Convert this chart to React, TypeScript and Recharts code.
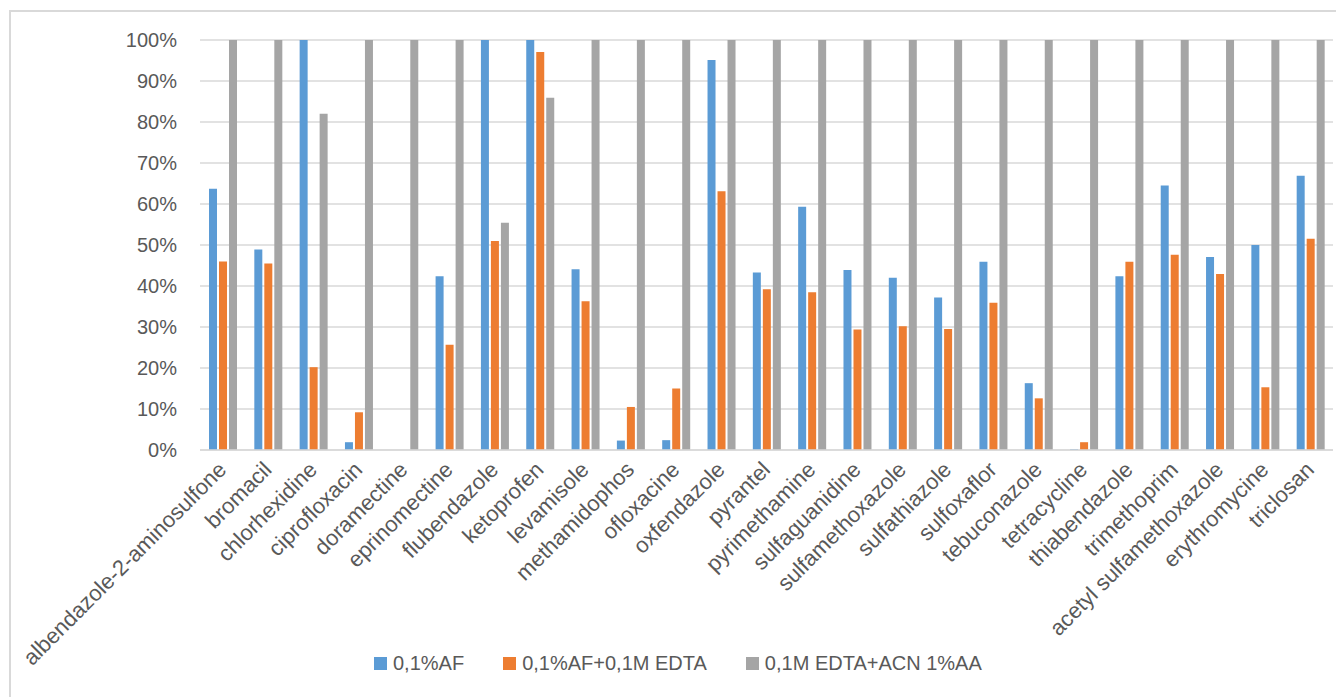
import React from 'react';
import { BarChart, Bar, XAxis, YAxis, CartesianGrid, Legend } from 'recharts';

const categories = [
  'albendazole-2-aminosulfone', 'bromacil', 'chlorhexidine', 'ciprofloxacin', 'doramectine',
  'eprinomectine', 'flubendazole', 'ketoprofen', 'levamisole', 'methamidophos', 'ofloxacine',
  'oxfendazole', 'pyrantel', 'pyrimethamine', 'sulfaguanidine', 'sulfamethoxazole',
  'sulfathiazole', 'sulfoxaflor', 'tebuconazole', 'tetracycline', 'thiabendazole',
  'trimethoprim', 'acetyl sulfamethoxazole', 'erythromycine', 'triclosan',
];

const af = [63.7, 48.9, 100, 1.9, 0, 42.4, 100, 100, 44.1, 2.3, 2.4, 95.1, 43.3, 59.3, 43.9, 42.0, 37.2, 45.9, 16.3, 0.2, 42.4, 64.5, 47.1, 50.0, 66.9];
const afEdta = [46.0, 45.5, 20.2, 9.2, 0, 25.7, 51.0, 97.1, 36.3, 10.5, 15.0, 63.1, 39.2, 38.5, 29.4, 30.2, 29.5, 35.9, 12.6, 1.9, 45.9, 47.6, 42.9, 15.3, 51.5];
const edtaAcn = [100, 100, 82.0, 100, 100, 100, 55.4, 85.9, 100, 100, 100, 100, 100, 100, 100, 100, 100, 100, 100, 100, 100, 100, 100, 100, 100];

const seriesNames = ['0,1%AF', '0,1%AF+0,1M EDTA', '0,1M EDTA+ACN 1%AA'];
const yTicks = [0, 10, 20, 30, 40, 50, 60, 70, 80, 90, 100];

const data = categories.map((name, i) => ({
  name,
  af: af[i],
  afEdta: afEdta[i],
  edtaAcn: edtaAcn[i],
}));

const FONT = '"Liberation Sans", Arial, sans-serif';
const TEXT = '#595959';

const CategoryTick = (props: any) => {
  const { x, y, payload } = props;
  const ax = x + 5;
  const ay = y + 13;
  return (
    <text
      x={ax}
      y={ay}
      transform={`rotate(-45, ${ax}, ${ay})`}
      textAnchor="end"
      fill={TEXT}
      fontSize={22}
      fontFamily={FONT}
    >
      {payload.value}
    </text>
  );
};

const LegendContent = (props: any) => {
  const { payload } = props;
  return (
    <div style={{ display: 'flex', alignItems: 'center', fontFamily: FONT, fontSize: 20, color: TEXT }}>
      {(payload || []).map((p: any, i: number) => (
        <div key={i} style={{ display: 'flex', alignItems: 'center', marginRight: 39 }}>
          <span style={{ display: 'inline-block', width: 13, height: 13, background: p.color, marginRight: 6 }} />
          <span>{p.value}</span>
        </div>
      ))}
    </div>
  );
};

export default function App() {
  return (
    <div style={{ position: 'fixed', left: 0, top: 0, width: 1336, height: 697, overflow: 'hidden', background: '#fff' }}>
      <div style={{ position: 'absolute', left: 9, top: 10, width: 1400, height: 800, border: '2px solid #D9D9D9', boxSizing: 'border-box' }} />
      <div style={{ position: 'absolute', left: 0, top: 0 }}>
        <BarChart
          width={1336}
          height={697}
          data={data}
          margin={{ top: 40, right: 3, left: 0, bottom: 0 }}
          barGap={2}
          barSize={8}
        >
          <CartesianGrid vertical={false} stroke="#D9D9D9" strokeWidth={1.5} />
          <XAxis
            dataKey="name"
            interval={0}
            height={247}
            tick={<CategoryTick />}
            tickLine={false}
            axisLine={{ stroke: '#D9D9D9', strokeWidth: 1.5 }}
          />
          <YAxis
            width={200}
            domain={[0, 100]}
            ticks={yTicks}
            tickFormatter={(v: number) => `${v}%`}
            axisLine={false}
            tickLine={false}
            tickMargin={17}
            tick={{ fill: TEXT, fontSize: 20, fontFamily: FONT }}
          />
          <Legend
            verticalAlign="middle"
            align="center"
            content={<LegendContent />}
            wrapperStyle={{ top: 652, left: 374, width: 900 }}
          />
          <Bar dataKey="af" name={seriesNames[0]} fill="#5B9BD5" isAnimationActive={false} />
          <Bar dataKey="afEdta" name={seriesNames[1]} fill="#ED7D31" isAnimationActive={false} />
          <Bar dataKey="edtaAcn" name={seriesNames[2]} fill="#A5A5A5" isAnimationActive={false} />
        </BarChart>
      </div>
    </div>
  );
}
